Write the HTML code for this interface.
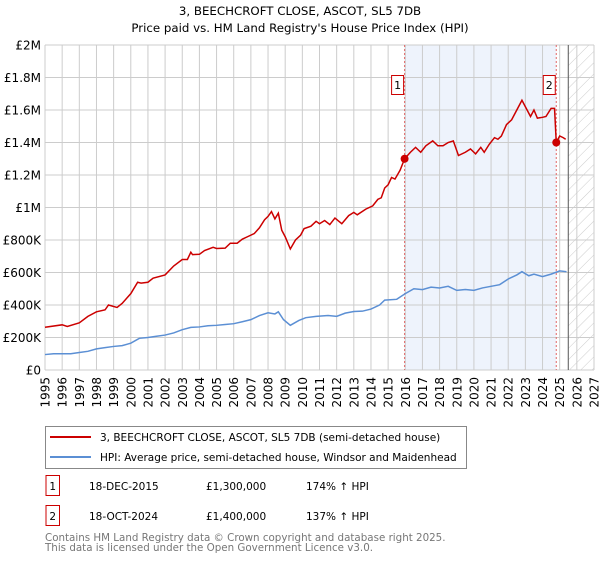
<!DOCTYPE html>
<html><head><meta charset="utf-8"><style>
body{margin:0;background:#fff;font-family:"DejaVu Sans","Liberation Sans",sans-serif;}
svg text{font-family:"DejaVu Sans","Liberation Sans",sans-serif;}
</style></head><body>
<svg id="chart" width="600" height="560" xmlns="http://www.w3.org/2000/svg">
<defs><pattern id="hatch" patternUnits="userSpaceOnUse" width="8" height="8" patternTransform="rotate(45)"><line x1="0" y1="0" x2="0" y2="8" stroke="#ccc" stroke-width="1"/></pattern></defs>
<text x="300" y="15" text-anchor="middle" font-size="11.8">3, BEECHCROFT CLOSE, ASCOT, SL5 7DB</text>
<text x="300" y="32" text-anchor="middle" font-size="11.8">Price paid vs. HM Land Registry's House Price Index (HPI)</text>
<g id="plot"></g>
<g>
<rect x="45.5" y="426.5" width="421" height="42" fill="#fff" stroke="#888"/>
<line x1="50" y1="437" x2="91" y2="437" stroke="#cc0000" stroke-width="2"/>
<text x="100" y="441" font-size="10.5">3, BEECHCROFT CLOSE, ASCOT, SL5 7DB (semi-detached house)</text>
<line x1="50" y1="457" x2="91" y2="457" stroke="#5b8fd4" stroke-width="2"/>
<text x="100" y="461" font-size="10.5">HPI: Average price, semi-detached house, Windsor and Maidenhead</text>
</g>
<g font-size="10.5">
<rect x="46" y="475.5" width="13.5" height="20" fill="#fff" stroke="#cc0000"/>
<text x="52.7" y="490" text-anchor="middle">1</text>
<text x="89" y="490">18-DEC-2015</text><text x="206" y="490">£1,300,000</text><text x="306" y="490">174% ↑ HPI</text>
<rect x="46" y="505.5" width="13.5" height="20" fill="#fff" stroke="#cc0000"/>
<text x="52.7" y="520" text-anchor="middle">2</text>
<text x="89" y="520">18-OCT-2024</text><text x="206" y="520">£1,400,000</text><text x="306" y="520">137% ↑ HPI</text>
</g>
<text x="45" y="541" font-size="10.3" fill="#777">Contains HM Land Registry data © Crown copyright and database right 2025.</text>
<text x="45" y="551" font-size="10.3" fill="#777">This data is licensed under the Open Government Licence v3.0.</text>
</svg>
<script>
const yTicks=[0,200000,400000,600000,800000,1000000,1200000,1400000,1600000,1800000,2000000];
const yTickLabels=["£0","£200K","£400K","£600K","£800K","£1M","£1.2M","£1.4M","£1.6M","£1.8M","£2M"];
const xYears=[1995,1996,1997,1998,1999,2000,2001,2002,2003,2004,2005,2006,2007,2008,2009,2010,2011,2012,2013,2014,2015,2016,2017,2018,2019,2020,2021,2022,2023,2024,2025,2026,2027];
const saleDates=[2015.96,2024.8];
const salePrices=[1300000,1400000];
const saleLabels=["1","2"];
const forecastStart=2025.5;
const redYears=[1995,1996,1996.3,1997,1997.5,1998,1998.5,1998.7,1999.2,1999.5,2000,2000.4,2000.6,2001,2001.3,2002,2002.5,2003,2003.3,2003.5,2003.6,2004,2004.3,2004.8,2005,2005.5,2005.8,2006.2,2006.5,2006.8,2007.2,2007.5,2007.8,2008,2008.2,2008.4,2008.6,2008.8,2009,2009.3,2009.6,2009.9,2010.1,2010.5,2010.8,2011,2011.3,2011.6,2011.9,2012.3,2012.7,2013,2013.2,2013.7,2014.1,2014.4,2014.6,2014.8,2015,2015.2,2015.4,2015.7,2015.96,2016.3,2016.6,2016.9,2017.2,2017.6,2017.9,2018.2,2018.5,2018.8,2019.1,2019.5,2019.8,2020.1,2020.4,2020.6,2020.9,2021.2,2021.4,2021.6,2021.9,2022.2,2022.5,2022.8,2023,2023.3,2023.5,2023.7,2024,2024.2,2024.5,2024.7,2024.8,2025,2025.2,2025.35];
const redValues=[263,278,268,290,330,358,370,400,385,410,470,540,535,540,565,585,640,680,680,725,710,712,735,755,748,750,780,780,805,820,840,875,925,945,975,930,965,860,820,745,800,830,870,885,915,900,920,895,935,900,950,970,955,990,1010,1050,1060,1120,1140,1185,1175,1230,1300,1340,1370,1340,1380,1410,1380,1380,1400,1410,1320,1340,1360,1330,1370,1340,1390,1430,1420,1440,1510,1540,1600,1660,1620,1560,1600,1550,1555,1560,1610,1610,1400,1440,1430,1420];
const blueYears=[1995,1995.5,1996.5,1997,1997.5,1998,1998.5,1999,1999.5,2000,2000.5,2001,2001.5,2002,2002.5,2003,2003.5,2004,2004.5,2005,2005.5,2006,2006.5,2007,2007.5,2008,2008.4,2008.6,2008.9,2009.3,2009.8,2010.2,2010.8,2011.5,2012,2012.5,2013,2013.5,2014,2014.5,2014.8,2015.5,2016,2016.5,2017,2017.5,2018,2018.5,2019,2019.5,2020,2020.5,2021,2021.5,2022,2022.5,2022.8,2023.2,2023.5,2024,2024.5,2025,2025.4];
const blueValues=[95,100,100,108,115,130,138,145,150,165,195,200,208,215,228,248,262,265,272,275,280,285,297,310,335,352,345,358,310,275,305,322,330,335,330,350,360,362,375,400,430,435,470,500,495,510,505,515,490,495,490,505,515,525,560,585,605,580,590,575,590,610,605];

const NS="http://www.w3.org/2000/svg";
const L=45,R=594,T=45,B=370;
const x=y=>L+(y-1995)/(2027-1995)*(R-L);
const yv=v=>B-v/2000000*(B-T);
const g=document.getElementById('plot');
function mk(tag,attrs,parent){const e=document.createElementNS(NS,tag);for(const k in attrs)e.setAttribute(k,attrs[k]);(parent||g).appendChild(e);return e;}
let e;
e=mk('rect',{x:x(saleDates[0]),y:T,width:x(saleDates[1])-x(saleDates[0]),height:B-T,fill:'#eef3fc'});


e=mk('rect',{x:x(forecastStart),y:T,width:R-x(forecastStart),height:B-T,fill:'url(#hatch)'});


yTicks.forEach((t,i)=>{
 e=mk('line',{x1:L,x2:R,y1:yv(t),y2:yv(t),stroke:'#ccc','stroke-width':1});
 
 
 e=mk('text',{x:L-4,y:yv(t)+4.5,'text-anchor':'end','font-size':12});
 e.textContent=yTickLabels[i];
 
 
});
xYears.forEach(yr=>{
 e=mk('line',{x1:x(yr),x2:x(yr),y1:T,y2:B,stroke:'#ccc','stroke-width':1});
 
 
 e=mk('text',{x:0,y:0,'text-anchor':'end','font-size':12,transform:`translate(${x(yr)+4.5},${B+7}) rotate(-90)`});
 e.textContent=yr;
 
 
});
e=mk('line',{x1:x(forecastStart),x2:x(forecastStart),y1:T,y2:B,stroke:'#555','stroke-width':1});


saleDates.forEach((d,i)=>{
 e=mk('line',{x1:x(d),x2:x(d),y1:T,y2:B,stroke:'#e06666','stroke-width':1,'stroke-dasharray':'2,2'});
 
 
});
e=mk('polyline',{points:blueYears.map((yr,i)=>x(yr)+','+yv(blueValues[i]*1000)).join(' '),fill:'none',stroke:'#5b8fd4','stroke-width':1.5});


e=mk('polyline',{points:redYears.map((yr,i)=>x(yr)+','+yv(redValues[i]*1000)).join(' '),fill:'none',stroke:'#cc0000','stroke-width':1.5});


saleDates.forEach((d,i)=>{
 e=mk('circle',{cx:x(d),cy:yv(salePrices[i]),r:4,fill:'#cc0000'});
 
 
 e=mk('rect',{x:x(d)-13,y:75.5,width:12,height:19,fill:'#fff',stroke:'#cc0000'});
 
 
 e=mk('text',{x:x(d)-7,y:89,'text-anchor':'middle','font-size':11});
 e.textContent=saleLabels[i];
 
 
});
</script>
</body></html>
